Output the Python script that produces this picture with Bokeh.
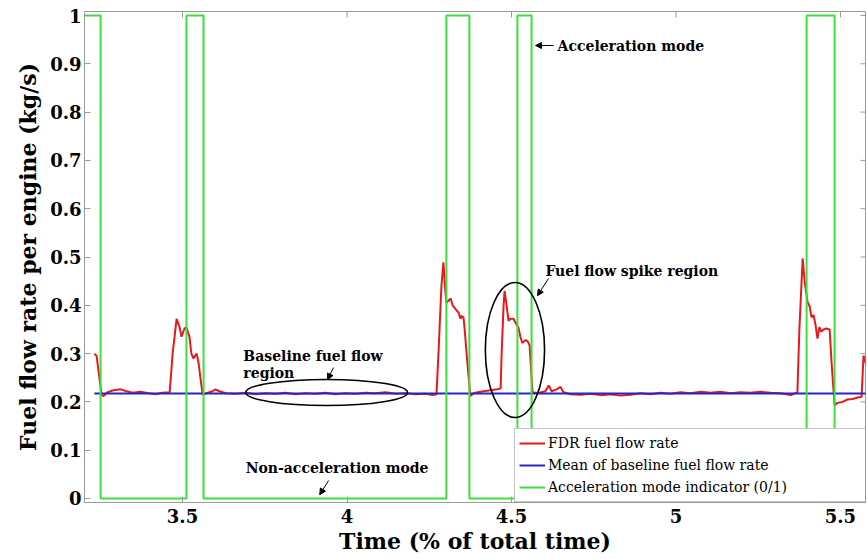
from bokeh.plotting import figure
from bokeh.models import (FixedTicker, Legend, LegendItem, Label,
                          Arrow, NormalHead, Range1d)
from bokeh.embed import file_html
from bokeh.resources import INLINE

# ---------------- data ----------------
x_ticks = [3.5, 4, 4.5, 5, 5.5]
x_tick_labels = ["3.5", "4", "4.5", "5", "5.5"]
y_ticks = [0, 0.1, 0.2, 0.3, 0.4, 0.5, 0.6, 0.7, 0.8, 0.9, 1]
y_tick_labels = ["0", "0.1", "0.2", "0.3", "0.4", "0.5", "0.6", "0.7", "0.8", "0.9", "1"]

# acceleration mode indicator (0/1), switching times
accel_t = [3.20, 3.251, 3.512, 3.564, 4.302, 4.372, 4.518, 4.561, 5.397, 5.482, 5.60]
accel_state = [1, 0, 1, 0, 1, 0, 1, 0, 1, 0, 0]

# mean of baseline fuel flow rate
baseline_t = [3.232, 5.60]
baseline_mean = [0.2175, 0.2175]

# FDR fuel flow rate
fdr_t = [
    3.232, 3.239, 3.254, 3.260, 3.272, 3.290, 3.312, 3.330, 3.348, 3.372,
    3.397, 3.418, 3.439, 3.461, 3.470, 3.482, 3.491, 3.497, 3.506, 3.512,
    3.521, 3.527, 3.533, 3.543, 3.549, 3.561, 3.573, 3.591, 3.600, 3.612,
    3.631, 3.661, 3.692, 3.722, 3.752, 3.783, 3.813, 3.844, 3.874, 3.904,
    3.935, 3.965, 3.995, 4.026, 4.056, 4.087, 4.117, 4.147, 4.178, 4.208,
    4.239, 4.260, 4.272, 4.278, 4.287, 4.293, 4.299, 4.302, 4.309, 4.315,
    4.321, 4.330, 4.339, 4.345, 4.348, 4.354, 4.357, 4.366, 4.375, 4.385,
    4.397, 4.415, 4.436, 4.457, 4.467, 4.470, 4.476, 4.479, 4.485, 4.491,
    4.497, 4.506, 4.515, 4.521, 4.527, 4.533, 4.543, 4.549, 4.555, 4.561,
    4.564, 4.579, 4.603, 4.613, 4.622, 4.637, 4.649, 4.658, 4.679, 4.710,
    4.740, 4.771, 4.801, 4.831, 4.862, 4.892, 4.923, 4.953, 4.983, 5.014,
    5.044, 5.075, 5.105, 5.135, 5.166, 5.196, 5.226, 5.257, 5.287, 5.318,
    5.348, 5.363, 5.369, 5.375, 5.385, 5.391, 5.400, 5.406, 5.412, 5.418,
    5.424, 5.430, 5.436, 5.442, 5.448, 5.457, 5.467, 5.473, 5.482, 5.491,
    5.506, 5.521, 5.537, 5.552, 5.564, 5.570, 5.579,
]
fdr_flow = [
    0.300, 0.295, 0.215, 0.212, 0.220, 0.224, 0.226, 0.222, 0.219, 0.221,
    0.218, 0.216, 0.219, 0.220, 0.300, 0.372, 0.355, 0.335, 0.352, 0.354,
    0.335, 0.300, 0.290, 0.300, 0.280, 0.215, 0.218, 0.222, 0.226, 0.222,
    0.218, 0.217, 0.219, 0.216, 0.218, 0.217, 0.219, 0.216, 0.218, 0.217,
    0.219, 0.216, 0.218, 0.217, 0.219, 0.218, 0.220, 0.217, 0.218, 0.216,
    0.217, 0.214, 0.216, 0.300, 0.440, 0.489, 0.430, 0.405, 0.410, 0.414,
    0.400, 0.392, 0.385, 0.372, 0.378, 0.375, 0.355, 0.280, 0.212, 0.218,
    0.220, 0.222, 0.224, 0.226, 0.228, 0.300, 0.400, 0.430, 0.400, 0.368,
    0.372, 0.372, 0.360, 0.354, 0.335, 0.322, 0.328, 0.326, 0.317, 0.250,
    0.220, 0.218, 0.222, 0.234, 0.222, 0.226, 0.231, 0.220, 0.216, 0.215,
    0.217, 0.214, 0.216, 0.213, 0.215, 0.218, 0.216, 0.219, 0.217, 0.220,
    0.218, 0.221, 0.219, 0.221, 0.218, 0.220, 0.219, 0.221, 0.219, 0.218,
    0.214, 0.218, 0.219, 0.350, 0.497, 0.450, 0.406, 0.398, 0.375, 0.380,
    0.360, 0.331, 0.355, 0.345, 0.350, 0.352, 0.350, 0.280, 0.193, 0.198,
    0.200, 0.205, 0.206, 0.209, 0.210, 0.296, 0.275,
]

series_labels = ["FDR fuel flow rate", "Mean of baseline fuel flow rate",
                 "Acceleration mode indicator (0/1)"]

# annotation ellipses (data units): baseline region, spike region
ell_x = [3.938, 4.5105]
ell_y = [0.2195, 0.3075]
ell_w = [0.492, 0.180]
ell_h = [0.054, 0.280]

# ---------------- styling ----------------
SERIF = "DejaVu Serif"
RED = "#e8191c"
BLUE = "#2525c8"
GREEN = "#3be03b"
AX = "#9a9a9a"

X0, X1 = 3.2021, 5.576
Y0, Y1 = -0.0083, 1.0083

p = figure(width=867, height=559,
           x_range=Range1d(X0, X1), y_range=Range1d(Y0, Y1),
           output_backend="svg", toolbar_location=None,
           min_border_left=84, min_border_right=2, min_border_top=11,
           min_border_bottom=57)
p.xgrid.grid_line_color = None
p.ygrid.grid_line_color = None
p.outline_line_color = AX
p.background_fill_color = "white"

r_red = p.line(fdr_t, fdr_flow, line_color=RED, line_width=2)
r_blue = p.line(baseline_t, baseline_mean, line_color=BLUE, line_width=2)
r_green = p.step(accel_t, accel_state, mode="after", line_color=GREEN, line_width=2)

p.ellipse(x=ell_x, y=ell_y, width=ell_w, height=ell_h,
          fill_color=None, line_color="black", line_width=1.6)

# mirror tick marks on the top and right frame edges
tick_dy = 6 / 483
tick_dx = 5 / 329
p.segment(x0=x_ticks, y0=[Y1] * len(x_ticks), x1=x_ticks,
          y1=[Y1 - tick_dy] * len(x_ticks), line_color=AX, line_width=1)
p.segment(x0=[X1] * len(y_ticks), y0=y_ticks, x1=[X1 - tick_dx] * len(y_ticks),
          y1=y_ticks, line_color=AX, line_width=1)


def style_axis(ax, ticks, labels):
    ax.ticker = FixedTicker(ticks=ticks)
    ax.major_label_overrides = dict(zip(ticks, labels))
    ax.axis_line_color = AX
    ax.major_tick_line_color = AX
    ax.major_tick_in = 6
    ax.major_tick_out = 0
    ax.minor_tick_line_color = None
    ax.major_label_text_font = SERIF
    ax.major_label_text_font_style = "bold"
    ax.major_label_text_color = "black"
    ax.major_label_text_font_size = "18px"
    ax.axis_label_text_font = SERIF
    ax.axis_label_text_font_style = "bold"
    ax.axis_label_text_color = "black"
    ax.axis_label_text_font_size = "22px"


style_axis(p.xaxis[0], x_ticks, x_tick_labels)
style_axis(p.yaxis[0], y_ticks, y_tick_labels)
p.xaxis[0].axis_label = "Time (% of total time)"
p.yaxis[0].axis_label = "Fuel flow rate per engine (kg/s)"
p.xaxis[0].major_label_standoff = 6
p.xaxis[0].axis_label_standoff = 2
p.yaxis[0].major_label_standoff = 3
p.yaxis[0].axis_label_standoff = 6

legend = Legend(items=[LegendItem(label=series_labels[0], renderers=[r_red]),
                       LegendItem(label=series_labels[1], renderers=[r_blue]),
                       LegendItem(label=series_labels[2], renderers=[r_green])],
                location=(430, 0))
legend.label_text_font = SERIF
legend.label_text_font_size = "14px"
legend.label_text_color = "black"
legend.glyph_width = 26
legend.glyph_height = 20
legend.label_height = 20
legend.label_standoff = 3
legend.label_width = 330
legend.spacing = 2
legend.padding = 4
legend.margin = 0
legend.border_line_color = "#8a8a8a"
legend.border_line_width = 1
legend.background_fill_alpha = 1.0
p.add_layout(legend)

# text annotations
ann_font = dict(text_font=SERIF, text_font_size="14px", text_font_style="bold",
                text_color="black", text_baseline="middle")
p.add_layout(Label(x=4.640, y=0.936, text="Acceleration mode", **ann_font))
p.add_layout(Label(x=4.603, y=0.472, text="Fuel flow spike region", **ann_font))
p.add_layout(Label(x=3.685, y=0.296, text="Baseline fuel flow", **ann_font))
p.add_layout(Label(x=3.685, y=0.259, text="region", **ann_font))
p.add_layout(Label(x=3.692, y=0.064, text="Non-acceleration mode", **ann_font))

arrows = [
    (4.628, 0.938, 4.573, 0.938),
    (4.6125, 0.4555, 4.579, 0.420),
    (3.959, 0.271, 3.941, 0.246),
    (3.944, 0.037, 3.917, 0.008),
]
for xs, ys, xe, ye in arrows:
    p.add_layout(Arrow(end=NormalHead(size=6, fill_color="black", line_color="black",
                                      line_width=1),
                       x_start=xs, y_start=ys, x_end=xe, y_end=ye,
                       line_color="black", line_width=1))

open("out.html", "w").write(file_html(p, INLINE))
